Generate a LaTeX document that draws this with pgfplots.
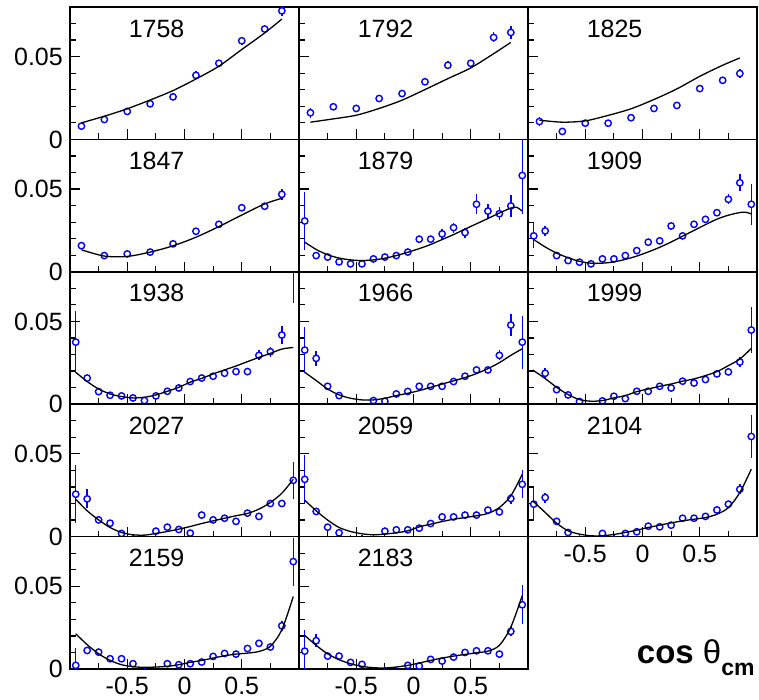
\documentclass[border=0pt]{standalone}
\usepackage{fontspec}
\setmainfont{Liberation Sans}
\usepackage{pgfplots}
\pgfplotsset{compat=1.18}
\pgfplotsset{
  panel/.style={
    scale only axis, width=229pt, height=132.4pt, anchor=south west,
    xmin=-1, xmax=1, ymin=0, ymax=0.08,
    axis line style={line width=1.5pt},
    tick style={line width=1.2pt, black},
    major tick length=10pt, minor tick length=6pt, tick align=inside,
    xtick pos=bottom, ytick pos=left,
    xtick={-0.5,0,0.5}, minor xtick={-0.75,-0.25,0.25,0.75},
    ytick={0,0.05}, minor ytick={0.01,0.02,0.03,0.04,0.06,0.07},
    scaled y ticks=false, scaled x ticks=false,
    xticklabels={}, yticklabels={},
    ticklabel style={font=\fontsize{25}{25}\selectfont, inner sep=0pt},
    yticklabel style={xshift=-7pt},
    xticklabel style={yshift=-8pt},
    clip marker paths=true,
  },
  ylab/.style={yticklabels={0,0.05}},
  xlab/.style={xticklabels={-0.5,0,0.5}},
  pts/.style={only marks, mark=*, mark size=3.2pt, blue,
    mark options={draw=blue, fill=white, line width=1.4pt},
    error bars/.cd, y dir=both, y explicit, error mark=none,
    error bar style={line width=1.5pt, blue}},
  fit/.style={black, line width=1.3pt, smooth, no marks},
}
\newcommand{\ttl}[1]{\node[font=\fontsize{25}{25}\selectfont] at (rel axis cs:0.378,0.838) {#1};}
\begin{document}
\begin{tikzpicture}
\path[use as bounding box] (0pt,0pt) rectangle (759pt,699pt);
% ---------------- Row 1 ----------------
\begin{axis}[panel, ylab, at={(70pt,559.6pt)}]
\addplot[pts] table[x index=0,y index=1,y error index=2] {
-0.9 0.0080 0.0015
-0.7 0.0120 0.0015
-0.5 0.0169 0.0015
-0.3 0.0215 0.0018
-0.1 0.0257 0.0018
0.1 0.0387 0.0025
0.3 0.0460 0.0022
0.5 0.0596 0.0025
0.7 0.0667 0.0025
0.85 0.0777 0.003
};
\addplot[fit] table {
-0.9 0.0100
-0.7 0.0140
-0.5 0.0185
-0.3 0.0238
-0.1 0.0295
0.1 0.0365
0.3 0.0442
0.5 0.0543
0.7 0.0643
0.85 0.0727
};
\ttl{1758}
\end{axis}
\begin{axis}[panel, at={(299pt,559.6pt)}]
\addplot[pts] table[x index=0,y index=1,y error index=2] {
-0.9 0.0161 0.003
-0.7 0.0197 0.0022
-0.5 0.0187 0.0018
-0.3 0.0247 0.0018
-0.1 0.0277 0.0018
0.1 0.0348 0.0018
0.3 0.0448 0.0025
0.5 0.0460 0.002
0.7 0.0616 0.003
0.85 0.0646 0.004
};
\addplot[fit] table {
-0.9 0.0104
-0.7 0.0124
-0.5 0.0146
-0.3 0.0187
-0.1 0.0237
0.1 0.0301
0.3 0.0367
0.5 0.0432
0.7 0.0518
0.85 0.0586
};
\ttl{1792}
\end{axis}
\begin{axis}[panel, at={(528pt,559.6pt)}]
\addplot[pts] table[x index=0,y index=1,y error index=2] {
-0.9 0.0108 0.0025
-0.7 0.0048 0.0015
-0.5 0.0098 0.0015
-0.3 0.0098 0.0015
-0.1 0.0131 0.0015
0.1 0.0187 0.0015
0.3 0.0205 0.0015
0.5 0.0307 0.0015
0.7 0.0357 0.0015
0.85 0.0398 0.003
};
\addplot[fit] table {
-0.9 0.0116
-0.7 0.0104
-0.5 0.0112
-0.3 0.0145
-0.1 0.0185
0.1 0.0241
0.3 0.0305
0.5 0.0381
0.7 0.0448
0.85 0.0492
};
\ttl{1825}
\end{axis}
% ---------------- Row 2 ----------------
\begin{axis}[panel, ylab, at={(70pt,427.2pt)}]
\addplot[pts] table[x index=0,y index=1,y error index=2] {
-0.9 0.0158 0.0018
-0.7 0.0098 0.0015
-0.5 0.0108 0.0015
-0.3 0.0119 0.0015
-0.1 0.0169 0.0015
0.1 0.0245 0.0015
0.3 0.0287 0.0015
0.5 0.0387 0.0015
0.7 0.0396 0.0018
0.85 0.0468 0.0035
};
\addplot[fit] table {
-0.9 0.0133
-0.7 0.0095
-0.5 0.0093
-0.3 0.0119
-0.1 0.0157
0.1 0.0209
0.3 0.0273
0.5 0.0343
0.7 0.0410
0.85 0.0444
};
\ttl{1847}
\end{axis}
\begin{axis}[panel, at={(299pt,427.2pt)}]
\addplot[pts] table[x index=0,y index=1,y error index=2] {
-0.95 0.0307 0.0175
-0.85 0.0098 0.002
-0.75 0.0089 0.0015
-0.65 0.0060 0.0015
-0.55 0.0048 0.0015
-0.45 0.0048 0.0015
-0.35 0.0078 0.0015
-0.25 0.0089 0.0015
-0.15 0.0098 0.0015
-0.05 0.0119 0.0015
0.05 0.0197 0.002
0.15 0.0197 0.002
0.25 0.0229 0.003
0.35 0.0267 0.003
0.45 0.0237 0.003
0.55 0.0408 0.006
0.65 0.0367 0.004
0.75 0.0351 0.004
0.85 0.0398 0.0065
0.95 0.0582 0.0234
};
\addplot[fit] table {
-0.95 0.0179
-0.85 0.0135
-0.75 0.0103
-0.65 0.0083
-0.55 0.0072
-0.45 0.0068
-0.35 0.0072
-0.25 0.0082
-0.15 0.0098
-0.05 0.0118
0.05 0.0140
0.15 0.0165
0.25 0.0195
0.35 0.0225
0.45 0.0258
0.55 0.0290
0.65 0.0322
0.75 0.0355
0.85 0.0385
0.9 0.0390
0.95 0.0366
};
\ttl{1879}
\end{axis}
\begin{axis}[panel, at={(528pt,427.2pt)}]
\addplot[pts] table[x index=0,y index=1,y error index=2] {
-0.95 0.0217 0.0075
-0.85 0.0247 0.003
-0.75 0.0098 0.0015
-0.65 0.0068 0.0015
-0.55 0.0058 0.0015
-0.45 0.0048 0.0015
-0.35 0.0078 0.0015
-0.25 0.0078 0.0015
-0.15 0.0098 0.0015
-0.05 0.0128 0.0015
0.05 0.0179 0.0015
0.15 0.0187 0.0015
0.25 0.0277 0.002
0.35 0.0217 0.0015
0.45 0.0287 0.002
0.55 0.0317 0.002
0.65 0.0357 0.002
0.75 0.0438 0.003
0.85 0.0538 0.0052
0.95 0.0408 0.0125
};
\addplot[fit] table {
-0.95 0.0195
-0.85 0.0150
-0.75 0.0113
-0.65 0.0085
-0.55 0.0063
-0.45 0.0052
-0.35 0.0052
-0.25 0.0060
-0.15 0.0075
-0.05 0.0095
0.05 0.0120
0.15 0.0148
0.25 0.0180
0.35 0.0215
0.45 0.0250
0.55 0.0285
0.65 0.0318
0.75 0.0342
0.85 0.0358
0.9 0.0360
0.95 0.0350
};
\ttl{1909}
\end{axis}
% ---------------- Row 3 ----------------
\begin{axis}[panel, ylab, at={(70pt,294.8pt)}]
\addplot[pts] table[x index=0,y index=1,y error index=2] {
-0.95 0.0375 0.0186
-0.85 0.0158 0.002
-0.75 0.0076 0.0015
-0.65 0.0054 0.0015
-0.55 0.0050 0.0015
-0.45 0.0038 0.0015
-0.35 0.0022 0.0015
-0.25 0.0050 0.0015
-0.15 0.0078 0.0015
-0.05 0.0098 0.0015
0.05 0.0137 0.0015
0.15 0.0158 0.0015
0.25 0.0169 0.002
0.35 0.0187 0.002
0.45 0.0197 0.002
0.55 0.0197 0.002
0.65 0.0295 0.003
0.75 0.0317 0.003
0.85 0.0418 0.0057
0.95 0.0900 0.0286
};
\addplot[fit] table {
-0.95 0.0193
-0.85 0.0137
-0.75 0.0092
-0.65 0.0062
-0.55 0.0046
-0.45 0.0038
-0.35 0.0042
-0.25 0.0056
-0.15 0.0078
-0.05 0.0102
0.05 0.0133
0.15 0.0156
0.25 0.0183
0.35 0.0207
0.45 0.0231
0.55 0.0257
0.65 0.0283
0.75 0.0307
0.85 0.0333
0.95 0.0343
};
\ttl{1938}
\end{axis}
\begin{axis}[panel, at={(299pt,294.8pt)}]
\addplot[pts] table[x index=0,y index=1,y error index=2] {
-0.95 0.0327 0.014
-0.85 0.0277 0.0045
-0.75 0.0108 0.0015
-0.65 0.0052 0.0015
-0.55 -0.002 0.003
-0.45 -0.002 0.003
-0.35 0.0022 0.0015
-0.25 0.0018 0.0015
-0.15 0.0062 0.0015
-0.05 0.0077 0.0015
0.05 0.0108 0.0015
0.15 0.0108 0.0015
0.25 0.0108 0.0015
0.35 0.0137 0.0015
0.45 0.0169 0.002
0.55 0.0207 0.002
0.65 0.0207 0.002
0.75 0.0295 0.003
0.85 0.0478 0.0068
0.95 0.0375 0.016
};
\addplot[fit] table {
-0.95 0.0193
-0.85 0.0143
-0.75 0.0092
-0.65 0.0056
-0.55 0.0036
-0.45 0.0026
-0.35 0.0026
-0.25 0.0036
-0.15 0.0052
-0.05 0.0066
0.05 0.0082
0.15 0.0102
0.25 0.0122
0.35 0.0141
0.45 0.0161
0.55 0.0185
0.65 0.0215
0.75 0.0251
0.85 0.0295
0.95 0.0335
};
\ttl{1966}
\end{axis}
\begin{axis}[panel, at={(528pt,294.8pt)}]
\addplot[pts] table[x index=0,y index=1,y error index=2] {
-0.85 0.0187 0.003
-0.75 0.0088 0.0015
-0.65 0.0056 0.0015
-0.55 0.0016 0.0015
-0.45 -0.002 0.003
-0.35 0.0020 0.0015
-0.25 0.0048 0.0015
-0.15 0.0034 0.0015
-0.05 0.0078 0.0015
0.05 0.0078 0.0015
0.15 0.0108 0.0015
0.25 0.0098 0.0015
0.35 0.0139 0.0015
0.45 0.0128 0.0015
0.55 0.0149 0.0015
0.65 0.0183 0.0015
0.75 0.0195 0.0015
0.85 0.0255 0.003
0.95 0.0448 0.014
};
\addplot[fit] table {
-0.96 0.0207
-0.85 0.0155
-0.75 0.0102
-0.65 0.0058
-0.55 0.0028
-0.45 0.0018
-0.35 0.0022
-0.25 0.0038
-0.15 0.0052
-0.05 0.0076
0.05 0.0092
0.15 0.0108
0.25 0.0122
0.35 0.0139
0.45 0.0153
0.55 0.0173
0.65 0.0197
0.75 0.0233
0.85 0.0273
0.95 0.0337
};
\ttl{1999}
\end{axis}
% ---------------- Row 4 ----------------
\begin{axis}[panel, ylab, at={(70pt,162.4pt)}]
\addplot[pts] table[x index=0,y index=1,y error index=2] {
-0.95 0.0256 0.0175
-0.85 0.0228 0.0057
-0.75 0.0101 0.0015
-0.65 0.0081 0.0015
-0.55 0.0019 0.0015
-0.45 -0.002 0.003
-0.35 -0.002 0.003
-0.25 0.0033 0.0015
-0.15 0.0057 0.0015
-0.05 0.0043 0.0015
0.05 0.0021 0.0015
0.15 0.0130 0.0025
0.25 0.0101 0.0015
0.35 0.0111 0.0015
0.45 0.0092 0.0015
0.55 0.0142 0.0015
0.65 0.0122 0.0015
0.75 0.0200 0.002
0.85 0.0200 0.002
0.95 0.0340 0.011
};
\addplot[fit] table {
-0.95 0.0226
-0.85 0.0156
-0.75 0.0101
-0.65 0.0055
-0.55 0.0025
-0.45 0.0011
-0.35 0.0009
-0.25 0.0019
-0.15 0.0031
-0.05 0.0045
0.05 0.0061
0.15 0.0079
0.25 0.0095
0.35 0.0111
0.45 0.0126
0.55 0.0140
0.65 0.0166
0.75 0.0206
0.85 0.0262
0.95 0.0346
};
\ttl{2027}
\end{axis}
\begin{axis}[panel, at={(299pt,162.4pt)}]
\addplot[pts] table[x index=0,y index=1,y error index=2] {
-0.95 0.0346 0.015
-0.85 0.0152 0.002
-0.75 0.0057 0.0015
-0.65 0.0023 0.0015
-0.55 -0.002 0.003
-0.45 -0.002 0.003
-0.35 -0.002 0.003
-0.25 0.0033 0.0015
-0.15 0.0041 0.0015
-0.05 0.0041 0.0015
0.05 0.0051 0.0015
0.15 0.0079 0.0015
0.25 0.0119 0.0015
0.35 0.0119 0.0015
0.45 0.0130 0.0015
0.55 0.0130 0.0015
0.65 0.0160 0.0015
0.75 0.0149 0.0015
0.85 0.0230 0.003
0.95 0.0316 0.0085
};
\addplot[fit] table {
-0.95 0.0220
-0.85 0.0156
-0.75 0.0100
-0.65 0.0055
-0.55 0.0031
-0.45 0.0017
-0.35 0.0011
-0.25 0.0015
-0.15 0.0023
-0.05 0.0035
0.05 0.0059
0.15 0.0075
0.25 0.0091
0.35 0.0105
0.45 0.0115
0.55 0.0126
0.65 0.0140
0.75 0.0176
0.85 0.0246
0.95 0.0377
};
\ttl{2059}
\end{axis}
\begin{axis}[panel, xlab, at={(528pt,162.4pt)}]
\addplot[pts] table[x index=0,y index=1,y error index=2] {
-0.95 0.0196 0.010
-0.85 0.0236 0.003
-0.75 0.0092 0.0015
-0.65 0.0025 0.0015
-0.55 -0.002 0.003
-0.45 -0.002 0.003
-0.35 0.0019 0.0015
-0.25 -0.002 0.003
-0.15 0.0019 0.0015
-0.05 0.0029 0.0015
0.05 0.0063 0.0015
0.15 0.0059 0.0015
0.25 0.0069 0.0015
0.35 0.0111 0.0015
0.45 0.0111 0.0015
0.55 0.0122 0.0015
0.65 0.0161 0.0015
0.75 0.0196 0.0015
0.85 0.0286 0.003
0.95 0.0605 0.013
};
\addplot[fit] table {
-0.96 0.0216
-0.85 0.0146
-0.75 0.0081
-0.65 0.0035
-0.55 0.0015
-0.45 0.0005
-0.35 0.0005
-0.25 0.0013
-0.15 0.0025
-0.05 0.0039
0.05 0.0055
0.15 0.0069
0.25 0.0083
0.35 0.0095
0.45 0.0105
0.55 0.0115
0.65 0.0135
0.75 0.0175
0.85 0.0266
0.95 0.0407
};
\ttl{2104}
\end{axis}
% ---------------- Row 5 ----------------
\begin{axis}[panel, ylab, xlab, at={(70pt,30pt)}]
\addplot[pts] table[x index=0,y index=1,y error index=2] {
-0.95 0.0022 0.0105
-0.85 0.0112 0.0015
-0.75 0.0102 0.0015
-0.65 0.0062 0.0015
-0.55 0.0062 0.0015
-0.45 0.0032 0.0015
-0.35 -0.0015 0.0025
-0.25 -0.003 0.002
-0.15 0.0032 0.0015
-0.05 0.0026 0.0015
0.05 0.0032 0.0015
0.15 0.0042 0.0015
0.25 0.0076 0.0015
0.35 0.0094 0.0015
0.45 0.0090 0.0015
0.55 0.0124 0.0015
0.65 0.0155 0.0015
0.75 0.0133 0.0015
0.85 0.0261 0.003
0.95 0.0649 0.0145
};
\addplot[fit] table {
-0.95 0.0213
-0.85 0.0147
-0.75 0.0092
-0.65 0.0052
-0.55 0.0026
-0.45 0.0014
-0.35 0.0010
-0.25 0.0012
-0.15 0.0016
-0.05 0.0026
0.05 0.0040
0.15 0.0052
0.25 0.0066
0.35 0.0080
0.45 0.0090
0.55 0.0096
0.65 0.0106
0.75 0.0137
0.85 0.0237
0.95 0.0438
};
\ttl{2159}
\end{axis}
\begin{axis}[panel, xlab, at={(299pt,30pt)}]
\addplot[pts] table[x index=0,y index=1,y error index=2] {
-0.95 0.0108 0.0125
-0.85 0.0171 0.004
-0.75 0.0078 0.0015
-0.65 0.0078 0.0015
-0.55 0.0040 0.0015
-0.45 0.0028 0.0015
-0.35 -0.002 0.003
-0.25 -0.002 0.003
-0.15 -0.002 0.003
-0.05 0.0022 0.0015
0.05 0.0018 0.0015
0.15 0.0058 0.0015
0.25 0.0048 0.0015
0.35 0.0072 0.0015
0.45 0.0100 0.0015
0.55 0.0110 0.0015
0.65 0.0110 0.0015
0.75 0.0090 0.0015
0.85 0.0227 0.003
0.95 0.0388 0.0118
};
\addplot[fit] table {
-0.95 0.0203
-0.85 0.0143
-0.75 0.0092
-0.65 0.0056
-0.55 0.0032
-0.45 0.0016
-0.35 0.0008
-0.25 0.0006
-0.15 0.0012
-0.05 0.0022
0.05 0.0036
0.15 0.0052
0.25 0.0066
0.35 0.0078
0.45 0.0088
0.55 0.0098
0.65 0.0108
0.75 0.0143
0.85 0.0253
0.95 0.0444
};
\ttl{2183}
\end{axis}
\node[anchor=base west, inner sep=0pt] at (636.7pt,36pt) {\fontsize{33}{33}\selectfont\textbf{cos} θ\raisebox{-12pt}{\fontsize{23}{23}\selectfont\textbf{cm}}};
\end{tikzpicture}
\end{document}
